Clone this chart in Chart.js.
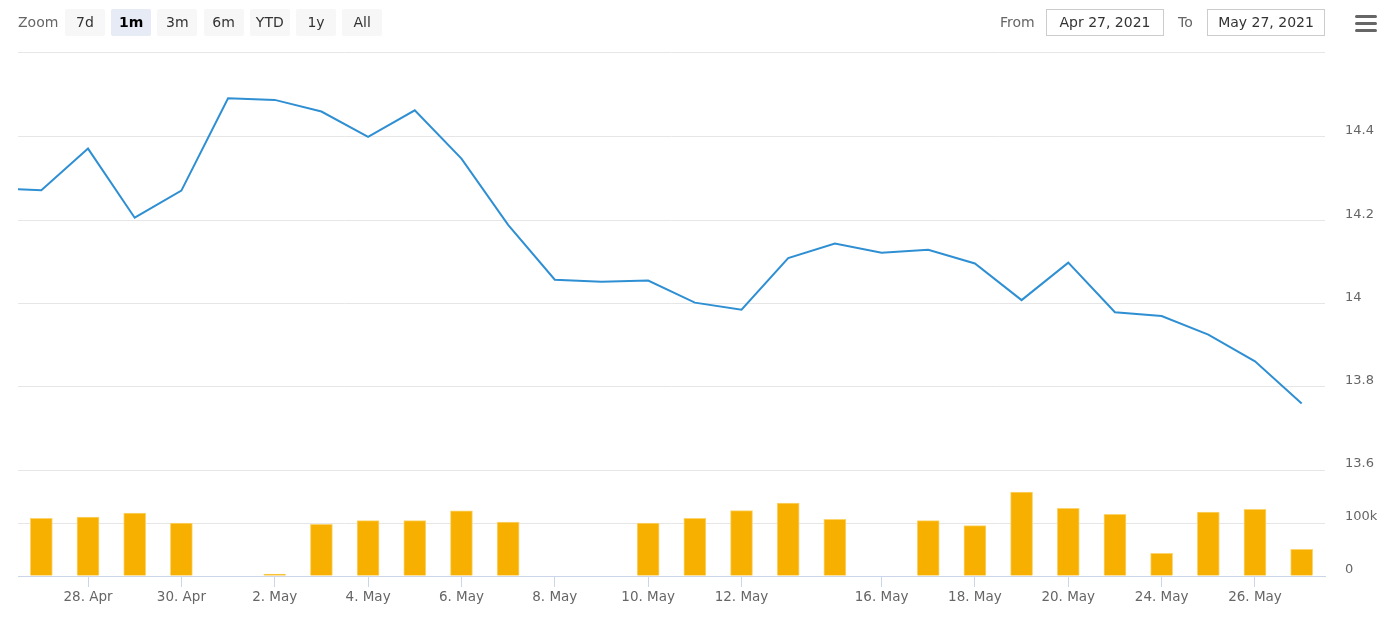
<!DOCTYPE html>
<html>
<head>
<meta charset="utf-8">
<script src="https://cdn.jsdelivr.net/npm/chart.js@4.4.1/dist/chart.umd.min.js"></script>
<style>
  html, body { margin: 0; padding: 0; background: #fff; }
  body { font-family: "DejaVu Sans", sans-serif; }
  #wrap { position: relative; width: 1398px; height: 619px; }
  #chart { position: absolute; left: 0; top: 0; }
  .lbl { position: absolute; top: 14px; font-size: 14px; color: #666; }
  .btn {
    position: absolute; top: 9px; width: 40px; height: 27px; line-height: 26px;
    text-align: center; font-size: 14px; color: #333; background: #f7f7f7; border-radius: 2px;
  }
  .btn.on { background: #e6ebf5; font-weight: bold; color: #000; }
  .inp {
    position: absolute; top: 9px; width: 116px; height: 25px; line-height: 25px;
    border: 1px solid #ccc; text-align: center; font-size: 14px; color: #333;
  }
  .menu { position: absolute; left: 1355px; width: 22px; height: 3px; background: #666; border-radius: 1.5px; }
</style>
</head>
<body>
<div id="wrap">
  <canvas id="chart" width="1398" height="619"></canvas>
  <div id="toolbar"></div>
</div>
<script>
// ordinal days shown in the range (first one sits just off the left edge)
const days = ['26. Apr', '27. Apr', '28. Apr', '29. Apr', '30. Apr', '1. May', '2. May', '3. May',
  '4. May', '5. May', '6. May', '7. May', '8. May', '9. May', '10. May', '11. May', '12. May',
  '13. May', '14. May', '16. May', '17. May', '18. May', '19. May', '20. May', '21. May',
  '24. May', '25. May', '26. May', '27. May'];

const closes = [14.277, 14.272, 14.372, 14.206, 14.271, 14.493, 14.489, 14.461, 14.400, 14.464,
  14.348, 14.189, 14.057, 14.052, 14.055, 14.002, 13.985, 14.109, 14.144, 14.122, 14.129,
  14.096, 14.008, 14.098, 13.979, 13.970, 13.925, 13.861, 13.760];

const volumes = [null, 108900, 111000, 118900, 100000, null, 3800, 97500, 104400, 104400,
  123000, 101900, null, null, 100000, 108900, 123300, 137700, 106900, null, 104400, 95000,
  158500, 127700, 116400, 42800, 120800, 125800, 50300];

const tickDays = ['28. Apr', '30. Apr', '2. May', '4. May', '6. May', '8. May', '10. May',
  '12. May', '16. May', '18. May', '20. May', '24. May', '26. May'];

const priceTicks = [13.6, 13.8, 14.0, 14.2, 14.4, 14.604];
const volumeTicks = [0, 100000, 200000];

const zoomButtons = ['7d', '1m', '3m', '6m', 'YTD', '1y', 'All'];
const selectedZoom = '1m';
const fromDate = 'Apr 27, 2021';
const toDate = 'May 27, 2021';

// toolbar (range selector)
const tb = document.getElementById('toolbar');
let html = '<div class="lbl" style="left:18px">Zoom</div>';
zoomButtons.forEach((b, i) => {
  html += '<div class="btn' + (b === selectedZoom ? ' on' : '') + '" style="left:' + (65 + i * 46.2) + 'px">' + b + '</div>';
});
html += '<div class="lbl" style="left:1000px">From</div>';
html += '<div class="inp" style="left:1046px">' + fromDate + '</div>';
html += '<div class="lbl" style="left:1178px">To</div>';
html += '<div class="inp" style="left:1207px">' + toDate + '</div>';
html += '<div class="menu" style="top:15px"></div><div class="menu" style="top:22px"></div><div class="menu" style="top:29px"></div>';
tb.innerHTML = html;

const lineData = closes.map((v, i) => ({ x: i, y: v }));
const barData = volumes.map((v, i) => ({ x: i, y: v }));

const labelFont = { family: 'DejaVu Sans', size: 13 };

const ctx = document.getElementById('chart').getContext('2d');
new Chart(ctx, {
  type: 'bar',
  data: {
    datasets: [
      {
        type: 'line',
        label: 'Price',
        data: lineData,
        yAxisID: 'price',
        borderColor: '#2f8fd3',
        borderWidth: 2,
        pointRadius: 0,
        tension: 0,
        fill: false
      },
      {
        type: 'bar',
        label: 'Volume',
        data: barData,
        yAxisID: 'volume',
        backgroundColor: '#f7b000',
        borderColor: '#fbd46e',
        borderWidth: 1,
        barThickness: 22
      }
    ]
  },
  options: {
    responsive: false,
    animation: false,
    layout: { padding: { top: 52, left: 18, right: 0, bottom: 0 } },
    plugins: { legend: { display: false }, tooltip: { enabled: false } },
    scales: {
      x: {
        type: 'linear',
        min: 0.5,
        max: days.length - 0.5,
        offset: false,
        afterBuildTicks: (scale) => {
          scale.ticks = tickDays.map(d => ({ value: days.indexOf(d) }));
        },
        afterFit: (scale) => { scale.height = 43; },
        ticks: {
          autoSkip: false,
          maxRotation: 0,
          padding: 2,
          color: '#666',
          font: { family: 'DejaVu Sans', size: 13.5 },
          callback: (v) => days[v]
        },
        grid: { offset: false, drawOnChartArea: false, tickLength: 11, color: '#ccd6eb' },
        border: { color: '#ccd6eb', width: 1 }
      },
      price: {
        type: 'linear',
        position: 'right',
        stack: 'panes',
        stackWeight: 418,
        min: priceTicks[0],
        max: priceTicks[priceTicks.length - 1],
        afterBuildTicks: (scale) => {
          scale.ticks = priceTicks.map(v => ({ value: v }));
        },
        afterFit: (scale) => { scale.width = 73; },
        ticks: {
          padding: 20,
          labelOffset: -6,
          color: '#666',
          font: labelFont,
          callback: (v) => v > 14.59 ? '' : String(Number(v.toFixed(1)))
        },
        grid: { color: '#e6e6e6', drawTicks: false },
        border: { display: false }
      },
      volume: {
        type: 'linear',
        position: 'right',
        stack: 'panes',
        stackWeight: 106,
        min: 0,
        max: volumeTicks[volumeTicks.length - 1],
        afterBuildTicks: (scale) => {
          scale.ticks = volumeTicks.map(v => ({ value: v }));
        },
        afterFit: (scale) => { scale.width = 73; },
        ticks: {
          padding: 20,
          labelOffset: -6,
          color: '#666',
          font: labelFont,
          callback: (v) => v >= 200000 ? '' : (v === 0 ? '0' : (v / 1000) + 'k')
        },
        grid: { color: '#e6e6e6', drawTicks: false },
        border: { display: false }
      }
    }
  }
});
</script>
</body>
</html>
